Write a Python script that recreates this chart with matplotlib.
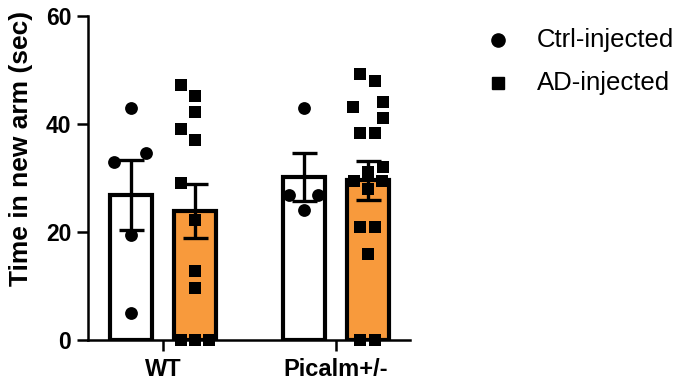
import matplotlib
matplotlib.use("Agg")
import matplotlib.pyplot as plt
from matplotlib.lines import Line2D

plt.rcParams["font.family"] = ["Liberation Sans", "DejaVu Sans"]

groups = ["WT", "Picalm+/-"]
conditions = ["Ctrl-injected", "AD-injected"]

# bar heights (mean) and SEM
ctrl_mean = [26.9, 30.2]
ctrl_sem = [6.5, 4.4]
ad_mean = [23.9, 29.6]
ad_sem = [5.0, 3.6]

# individual animals
wt_ctrl = [43, 34.6, 33, 19.4, 5]
wt_ad = [47.3, 45.1, 42.3, 39.1, 37.1, 29.0, 22.2, 12.8, 9.7, 0, 0, 0]
pic_ctrl = [43, 26.9, 26.9, 24.1]
pic_ad = [49.2, 48.0, 44.1, 43.2, 41.2, 38.3, 38.3, 32.0, 31.1, 29.5, 29.5, 28.0,
          20.9, 20.9, 16.0, 0, 0]

# horizontal scatter of the dots inside each bar
wt_ctrl_jit = [0, 0.087, -0.098, 0, 0]
wt_ad_jit = [-0.08, 0, 0, -0.08, 0, -0.08, 0, 0, 0, -0.08, 0, 0.08]
pic_ctrl_jit = [0, -0.087, 0.082, 0]
pic_ad_jit = [-0.046, 0.04, 0.087, -0.087, 0.087, -0.046, 0.04, 0.087, 0, -0.08, 0.08, 0,
              -0.046, 0.04, 0, -0.046, 0.04]

orange = "#F89A3C"
off = 0.186
width = 0.243

fig = plt.figure(figsize=(6.79, 3.89), dpi=100)
ax = fig.add_axes([88 / 679, 49 / 389, 322 / 679, 324 / 389])

xs = [0, 1]
ax.bar([x - off for x in xs], ctrl_mean, width=width, color="white", edgecolor="black",
       linewidth=3.0, zorder=2)
ax.bar([x + off for x in xs], ad_mean, width=width, color=orange, edgecolor="black",
       linewidth=3.0, zorder=2)
ax.errorbar([x - off for x in xs], ctrl_mean, yerr=ctrl_sem, fmt="none", ecolor="black",
            elinewidth=2.4, capsize=9, capthick=2.4, zorder=3)
ax.errorbar([x + off for x in xs], ad_mean, yerr=ad_sem, fmt="none", ecolor="black",
            elinewidth=2.4, capsize=9, capthick=2.4, zorder=3)

dot_sets = [
    (0 - off, wt_ctrl, wt_ctrl_jit, "o", 85),
    (0 + off, wt_ad, wt_ad_jit, "s", 75),
    (1 - off, pic_ctrl, pic_ctrl_jit, "o", 85),
    (1 + off, pic_ad, pic_ad_jit, "s", 75),
]
for cx, vals, jit, mk, sz in dot_sets:
    ax.scatter([cx + j for j in jit], vals, marker=mk, s=sz, color="black",
               linewidths=0, zorder=4, clip_on=False)

ax.set_xlim(-0.434, 1.428)
ax.set_ylim(0, 60)
ax.set_yticks([0, 20, 40, 60])
ax.set_xticks(xs)
ax.set_xticklabels(groups, fontsize=17, fontweight="bold")
ax.tick_params(axis="y", labelsize=16.5, width=1.8, length=8, pad=4)
ax.tick_params(axis="x", width=1.8, length=8, pad=5)
for lab in ax.get_yticklabels():
    lab.set_fontweight("bold")
ax.set_ylabel("Time in new arm (sec)", fontsize=19, fontweight="bold")
ax.yaxis.set_label_coords(-0.17, 0.59)

for side in ["top", "right"]:
    ax.spines[side].set_visible(False)
for side in ["left", "bottom"]:
    ax.spines[side].set_linewidth(1.8)

# legend drawn by hand so marker and text land where the original has them
legend_rows = [(40, "o", 9.5), (83, "s", 8.5)]
for (ypix, mk, ms), label in zip(legend_rows, conditions):
    yf = 1 - ypix / 389
    fig.add_artist(Line2D([498 / 679], [yf], marker=mk, color="black", linestyle="none",
                          markersize=ms, transform=fig.transFigure))
    fig.text(537 / 679, yf, label, fontsize=18.5, va="center", ha="left")

fig.savefig("out.png", dpi=100)
